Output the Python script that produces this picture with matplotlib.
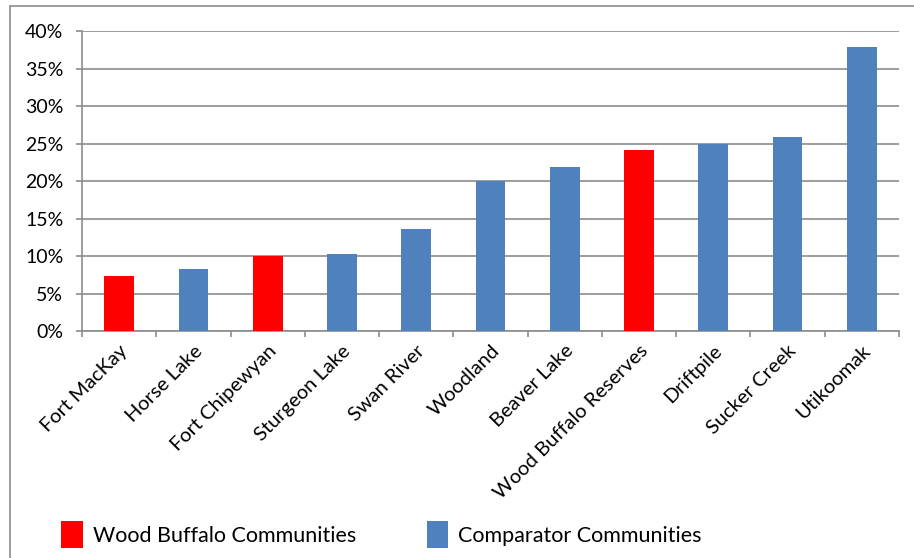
import matplotlib.pyplot as plt
from matplotlib.patches import Patch, Rectangle
from matplotlib.ticker import PercentFormatter

communities = ['Fort MacKay', 'Horse Lake', 'Fort Chipewyan', 'Sturgeon Lake',
               'Swan River', 'Woodland', 'Beaver Lake', 'Wood Buffalo Reserves',
               'Driftpile', 'Sucker Creek', 'Utikoomak']
rates = [7.3, 8.3, 10.0, 10.3, 13.6, 20.0, 21.9, 24.2, 25.0, 25.9, 37.9]
wood_buffalo = ['Fort MacKay', 'Fort Chipewyan', 'Wood Buffalo Reserves']

RED = '#FF0000'
BLUE = '#4F81BD'
GRID = '#8C8C8C'

plt.rcParams['font.family'] = ['Lato', 'DejaVu Sans']

fig = plt.figure(figsize=(9.14, 5.58), dpi=100)
ax = fig.add_axes([0.0897, 0.4068, 0.8939, 0.5376])

x = range(len(communities))
colors = [RED if c in wood_buffalo else BLUE for c in communities]
ax.bar(x, rates, width=0.40, color=colors, zorder=3)

ax.set_xlim(-0.5, len(communities) - 0.5)
ax.set_ylim(0, 40)
ax.set_yticks(range(0, 41, 5))
ax.yaxis.set_major_formatter(PercentFormatter(decimals=0))
ax.grid(axis='y', color=GRID, linewidth=1.2, zorder=0)

# category boundary ticks like a spreadsheet chart
ax.set_xticks([i - 0.5 for i in range(len(communities) + 1)])
ax.set_xticklabels([])
ax.set_xticks(list(x), minor=True)
ax.set_xticklabels(communities, minor=True, rotation=45, ha='right',
                   rotation_mode='anchor', fontsize=14.5)
ax.tick_params(axis='x', which='minor', length=0, pad=8)
ax.tick_params(axis='x', which='major', length=4.5, color=GRID, width=1.2)
ax.tick_params(axis='y', length=4.5, color=GRID, width=1.2, labelsize=14, pad=9)

for side in ('top', 'right'):
    ax.spines[side].set_visible(False)
for side in ('left', 'bottom'):
    ax.spines[side].set_color(GRID)
    ax.spines[side].set_linewidth(1.2)

# outer chart frame
fig.patches.append(Rectangle((10 / 914, -0.1), 1.2, (558 - 6) / 558 + 0.1,
                             transform=fig.transFigure, fill=False,
                             edgecolor=GRID, linewidth=1.2))

handles = [Patch(facecolor=RED, label='Wood Buffalo Communities'),
           Patch(facecolor=BLUE, label='Comparator Communities')]
fig.legend(handles=handles, ncol=2, frameon=False, loc='center left',
           bbox_to_anchor=(0.046, 0.042), fontsize=15.5,
           handlelength=1.0, handleheight=1.6, handletextpad=0.45,
           columnspacing=3.3)

fig.savefig('out.png', dpi=100)
